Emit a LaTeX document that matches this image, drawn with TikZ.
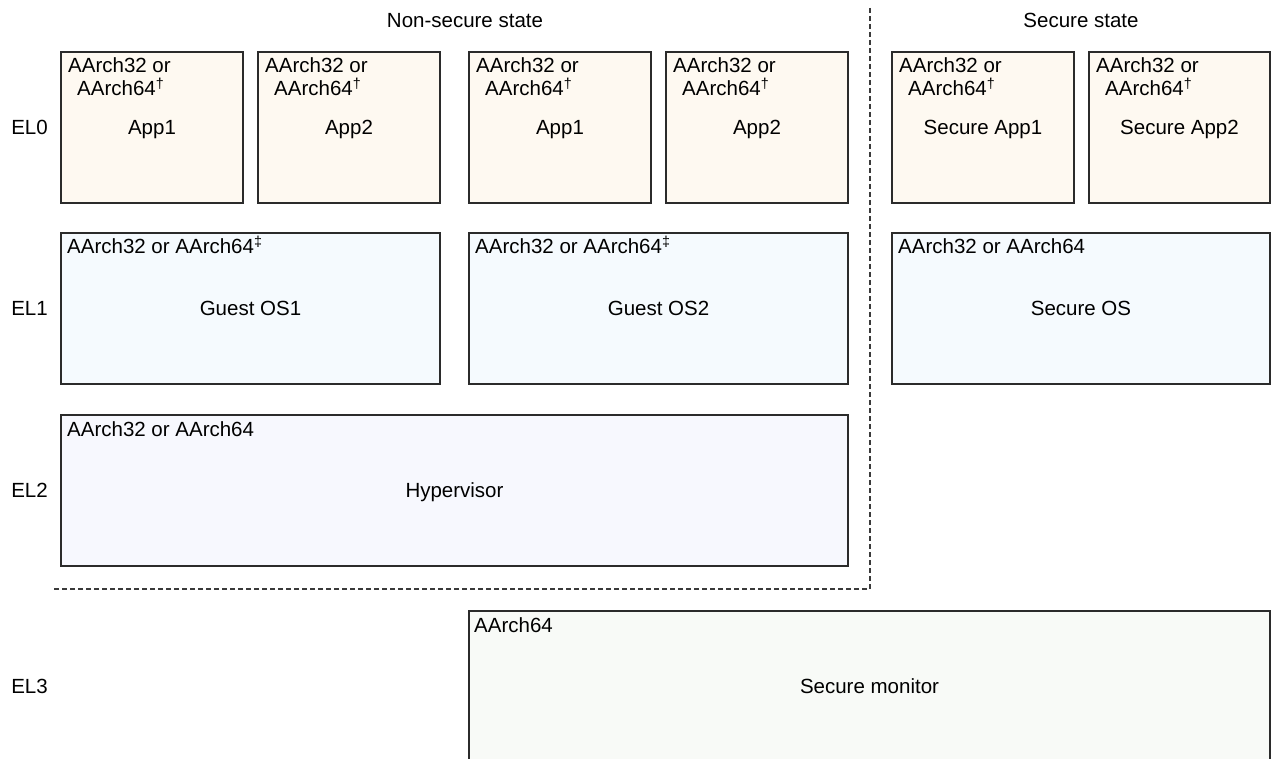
\documentclass[tikz,border=0pt]{standalone}
\usepackage{fontspec}
\setmainfont{Liberation Sans}
\usetikzlibrary{calc}
\definecolor{boxline}{HTML}{2B2B2B}
\definecolor{dashline}{HTML}{3A3A3A}
\definecolor{fillzero}{HTML}{FEF9F1}
\definecolor{fillone}{HTML}{F5FAFE}
\definecolor{filltwo}{HTML}{F7F8FE}
\definecolor{fillthree}{HTML}{F8FAF7}
\begin{document}
\begin{tikzpicture}[x=1pt,y=-1pt,
  font=\fontsize{20.5}{24}\selectfont,
  box/.style={draw=boxline, line width=1.4pt, inner sep=0pt, outer sep=0pt,
              minimum height=151pt, anchor=north west},
  elzero/.style={box, fill=fillzero, minimum width=182pt},
  elone/.style={box, fill=fillone, minimum width=379pt},
  eltwo/.style={box, fill=filltwo, minimum width=787pt},
  elthree/.style={box, fill=fillthree, minimum width=801pt},
  arch/.style={anchor=base west, inner sep=0pt},
  lbl/.style={anchor=base, inner sep=0pt},
  sepline/.style={draw=dashline, line width=1.2pt, dash pattern=on 5pt off 3pt}
]
\useasboundingbox (0,0) rectangle (1272,759);
\clip (0,0) rectangle (1272,759);

% titles
\node[lbl] (nstitle) at (465,28) {Non-secure state};
\node[lbl] (stitle) at (1081,28) {Secure state};

% EL0
\node[elzero] (app1) at (61,52) {};
\node[elzero] (app2) at (258,52) {};
\node[elzero] (app3) at (469,52) {};
\node[elzero] (app4) at (666,52) {};
\node[elzero] (sapp1) at (892,52) {};
\node[elzero, minimum width=181pt] (sapp2) at (1089,52) {};

\foreach \b/\t in {app1/App1, app2/App2, app3/App1, app4/App2, sapp1/Secure App1, sapp2/Secure App2}{
  \node[arch] (\b-a) at ($(\b.north west)+(7,21)$) {AArch32 or};
  \node[arch] (\b-b) at ($(\b.north west)+(16,44)$) {AArch64\textsuperscript{†}};
  \node[lbl] (\b-t) at ($(\b.center)+(0,7)$) {\t};
}

% EL1
\node[elone] (os1) at (61,233) {};
\node[elone] (os2) at (469,233) {};
\node[elone, minimum width=378pt] (sos) at (892,233) {};
\node[arch] (os1-a) at ($(os1.north west)+(6,21)$) {AArch32 or AArch64\textsuperscript{‡}};
\node[arch] (os2-a) at ($(os2.north west)+(6,21)$) {AArch32 or AArch64\textsuperscript{‡}};
\node[arch] (sos-a) at ($(sos.north west)+(6,21)$) {AArch32 or AArch64};
\node[lbl] (os1-t) at ($(os1.center)+(0,7)$) {Guest OS1};
\node[lbl] (os2-t) at ($(os2.center)+(0,7)$) {Guest OS2};
\node[lbl] (sos-t) at ($(sos.center)+(0,7)$) {Secure OS};

% EL2
\node[eltwo] (hyp) at (61,415) {};
\node[arch] (hyp-a) at ($(hyp.north west)+(6,21)$) {AArch32 or AArch64};
\node[lbl] (hyp-t) at ($(hyp.center)+(0,7)$) {Hypervisor};

% EL3
\node[elthree] (mon) at (469,611) {};
\node[arch] (mon-a) at ($(mon.north west)+(5,21)$) {AArch64};
\node[lbl] (mon-t) at ($(mon.center)+(0,7)$) {Secure monitor};

% level labels
\node[lbl] (el0) at ($(29.5,0)!(app1.center)!(29.5,1)+(0,7)$) {EL0};
\node[lbl] (el1) at ($(29.5,0)!(os1.center)!(29.5,1)+(0,7)$) {EL1};
\node[lbl] (el2) at ($(29.5,0)!(hyp.center)!(29.5,1)+(0,7)$) {EL2};
\node[lbl] (el3) at ($(29.5,0)!(mon.center)!(29.5,1)+(0,7)$) {EL3};

% separators
\coordinate (vtop) at (870,8);
\coordinate (corner) at (870,589);
\coordinate (hleft) at (52,589);
\draw[sepline] (vtop) -- (corner) -- (hleft);
\end{tikzpicture}
\end{document}
